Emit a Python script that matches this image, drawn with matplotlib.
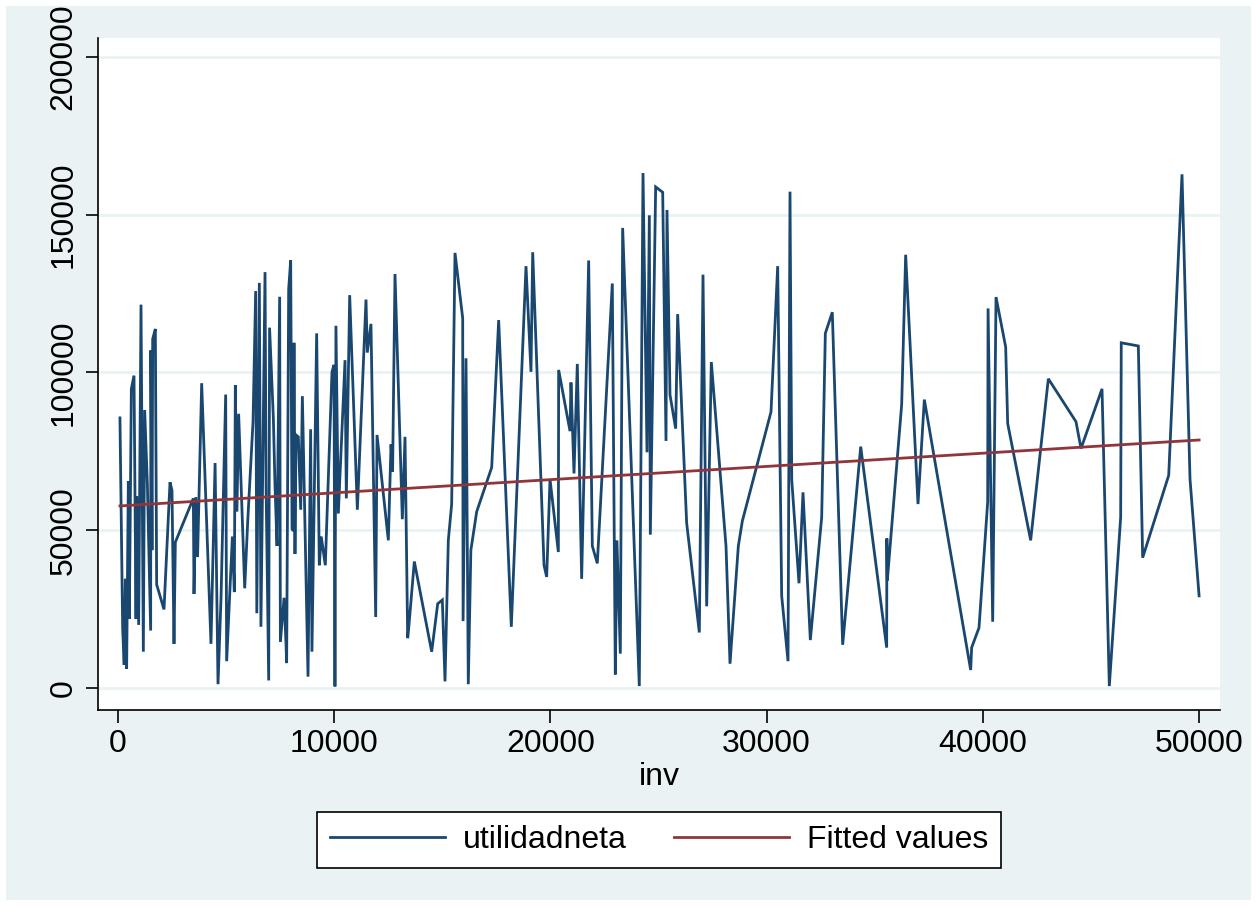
import matplotlib
matplotlib.use("Agg")
import matplotlib.pyplot as plt
from matplotlib.lines import Line2D
from matplotlib.patches import Rectangle

inv = [90, 216, 285, 340, 400, 478, 524, 617, 740, 833, 864, 956, 1064, 1172, 1233,
       1357, 1511, 1520, 1573, 1604, 1727, 1788, 2127, 2405, 2497, 2590, 2652, 3484,
       3515, 3600, 3680, 3870, 4300, 4490, 4625, 4765, 4980, 5025, 5290, 5380, 5427,
       5500, 5580, 5860, 6000, 6245, 6367, 6420, 6537, 6610, 6800, 6850, 6970, 7010,
       7185, 7260, 7355, 7477, 7510, 7680, 7770, 7800, 7893, 7986, 8050, 8110, 8140,
       8185, 8233, 8340, 8450, 8527, 8788, 8910, 8970, 9188, 9310, 9400, 9588, 9897,
       9990, 10034, 10080, 10190, 10500, 10560, 10715, 11070, 11470, 11530, 11700,
       11918, 11980, 12503, 12627, 12700, 12811, 13150, 13274, 13398, 13450, 13705,
       14508, 14786, 15000, 15124, 15277, 15432, 15586, 15942, 15960, 16095, 16201,
       16320, 16590, 17283, 17606, 18190, 18870, 19100, 19180, 19703, 19826, 19980,
       20366, 20380, 20905, 20950, 21090, 21243, 21444, 21768, 21937, 22168, 22862,
       23000, 23075, 23232, 23340, 24110, 24281, 24466, 24574, 24620, 24867, 25192,
       25345, 25391, 25530, 25792, 25884, 26300, 26886, 27056, 27226, 27441, 28120,
       28305, 28690, 28875, 30201, 30510, 30695, 30988, 31080, 31160, 31496, 31681,
       32020, 32545, 32714, 33036, 33515, 34350, 35551, 35560, 35580, 36245, 36429,
       37000, 37293, 39436, 39480, 39821, 40222, 40240, 40454, 40608, 41054, 41148,
       42210, 43028, 44307, 44539, 45510, 45848, 46373, 46400, 47190, 47390, 48595,
       49210, 49580, 50000]

utilidadneta = [85600, 18800, 7300, 34600, 6100, 65600, 21900, 94800, 99000, 21900,
                60700, 20000, 121500, 11500, 88100, 65000, 18200, 107000, 43700, 110600,
                113800, 32800, 24900, 65200, 62600, 14000, 46200, 60100, 29800, 60500,
                41500, 96600, 14000, 71300, 1200, 28600, 93000, 8500, 48000, 30400,
                96000, 55900, 86900, 31600, 52900, 84400, 125800, 23700, 128400, 19400,
                131800, 63200, 2400, 114200, 85600, 64400, 45000, 124000, 14600, 28600,
                14000, 7900, 126400, 135500, 50400, 49800, 109400, 42500, 80200, 79600,
                56500, 92500, 3600, 82000, 11500, 112400, 38900, 48000, 38900, 100200,
                102400, 500, 114800, 55300, 103900, 60100, 124500, 56500, 123100, 106300,
                115400, 22500, 80200, 46800, 77200, 68600, 131200, 53500, 79600, 15800,
                19400, 40100, 11500, 26700, 27900, 2100, 46800, 58300, 137900, 117200,
                21200, 104500, 1200, 43700, 55900, 69900, 116600, 19400, 133700, 100200,
                138100, 38900, 35200, 66200, 43100, 100800, 81400, 96800, 68000, 102700,
                34600, 135500, 45000, 39500, 128200, 4300, 46800, 10900, 145800, 600,
                163200, 74700, 149800, 48600, 158800, 157100, 78300, 151500, 92900, 82200,
                118500, 52300, 17600, 131000, 25900, 103300, 45000, 7700, 45000, 52900,
                87500, 133700, 29200, 8500, 157300, 66000, 33200, 62000, 15200, 54100,
                112400, 119100, 13700, 76500, 12800, 47400, 34000, 89900, 137300, 58300,
                91400, 5700, 12800, 19100, 58900, 120300, 21000, 123900, 108100, 83800,
                46800, 98000, 84400, 75900, 94800, 600, 54100, 109400, 108400, 41300,
                67400, 162800, 66200, 29200]

fit_x = [90, 50000]
fit_y = [57700, 78600]

y_ticks = [0, 50000, 100000, 150000, 200000]
x_ticks = [0, 10000, 20000, 30000, 40000, 50000]

bg = "#EAF2F3"
navy = "#1A476F"
maroon = "#90353B"
FS = 23

plt.rcParams['font.family'] = ['Liberation Sans', 'DejaVu Sans']

fig = plt.figure(figsize=(12.56, 9.05), dpi=100, facecolor="white")
fig.patches.append(Rectangle((6/1256, 5/905), 1245/1256, 894/905,
                             transform=fig.transFigure, facecolor=bg,
                             edgecolor='none', zorder=-10))

ax = fig.add_axes([98/1256, 1 - 710/905, (1220 - 98)/1256, (710 - 38)/905])
ax.set_facecolor("white")

ax.plot(inv, utilidadneta, color=navy, lw=2.0, solid_joinstyle='miter', zorder=3)
ax.plot(fit_x, fit_y, color=maroon, lw=2.0, zorder=4)

ax.set_xlim(-925, 50967)
ax.set_ylim(-6970, 206000)
ax.set_yticks(y_ticks)
ax.set_yticklabels([str(v) for v in y_ticks], rotation=90, va='center')
ax.set_xticks(x_ticks)
ax.set_xticklabels([str(v) for v in x_ticks])
ax.tick_params(axis='both', labelsize=FS, length=9, width=1.2, color='black', direction='out')
ax.tick_params(axis='y', pad=5)
ax.tick_params(axis='x', pad=5)
ax.grid(axis='y', color=bg, lw=2.0, zorder=0)
ax.set_axisbelow(True)

for s in ['top', 'right']:
    ax.spines[s].set_visible(False)
for s in ['left', 'bottom']:
    ax.spines[s].set_color('black')
    ax.spines[s].set_linewidth(1.2)

ax.set_xlabel("inv", fontsize=FS, labelpad=2)

handles = [Line2D([], [], color=navy, lw=2.0), Line2D([], [], color=maroon, lw=2.0)]
leg = fig.legend(handles, ["utilidadneta", "Fitted values"], loc='center',
                 bbox_to_anchor=(659/1256, 1 - 840/905), ncol=2, fontsize=FS,
                 frameon=True, fancybox=False, edgecolor='black', facecolor='white',
                 framealpha=1, handlelength=3.6, handletextpad=0.55, columnspacing=1.5,
                 borderpad=0.4, borderaxespad=0)
leg.get_frame().set_linewidth(1.2)

fig.savefig("out.png", dpi=100, facecolor="white")
